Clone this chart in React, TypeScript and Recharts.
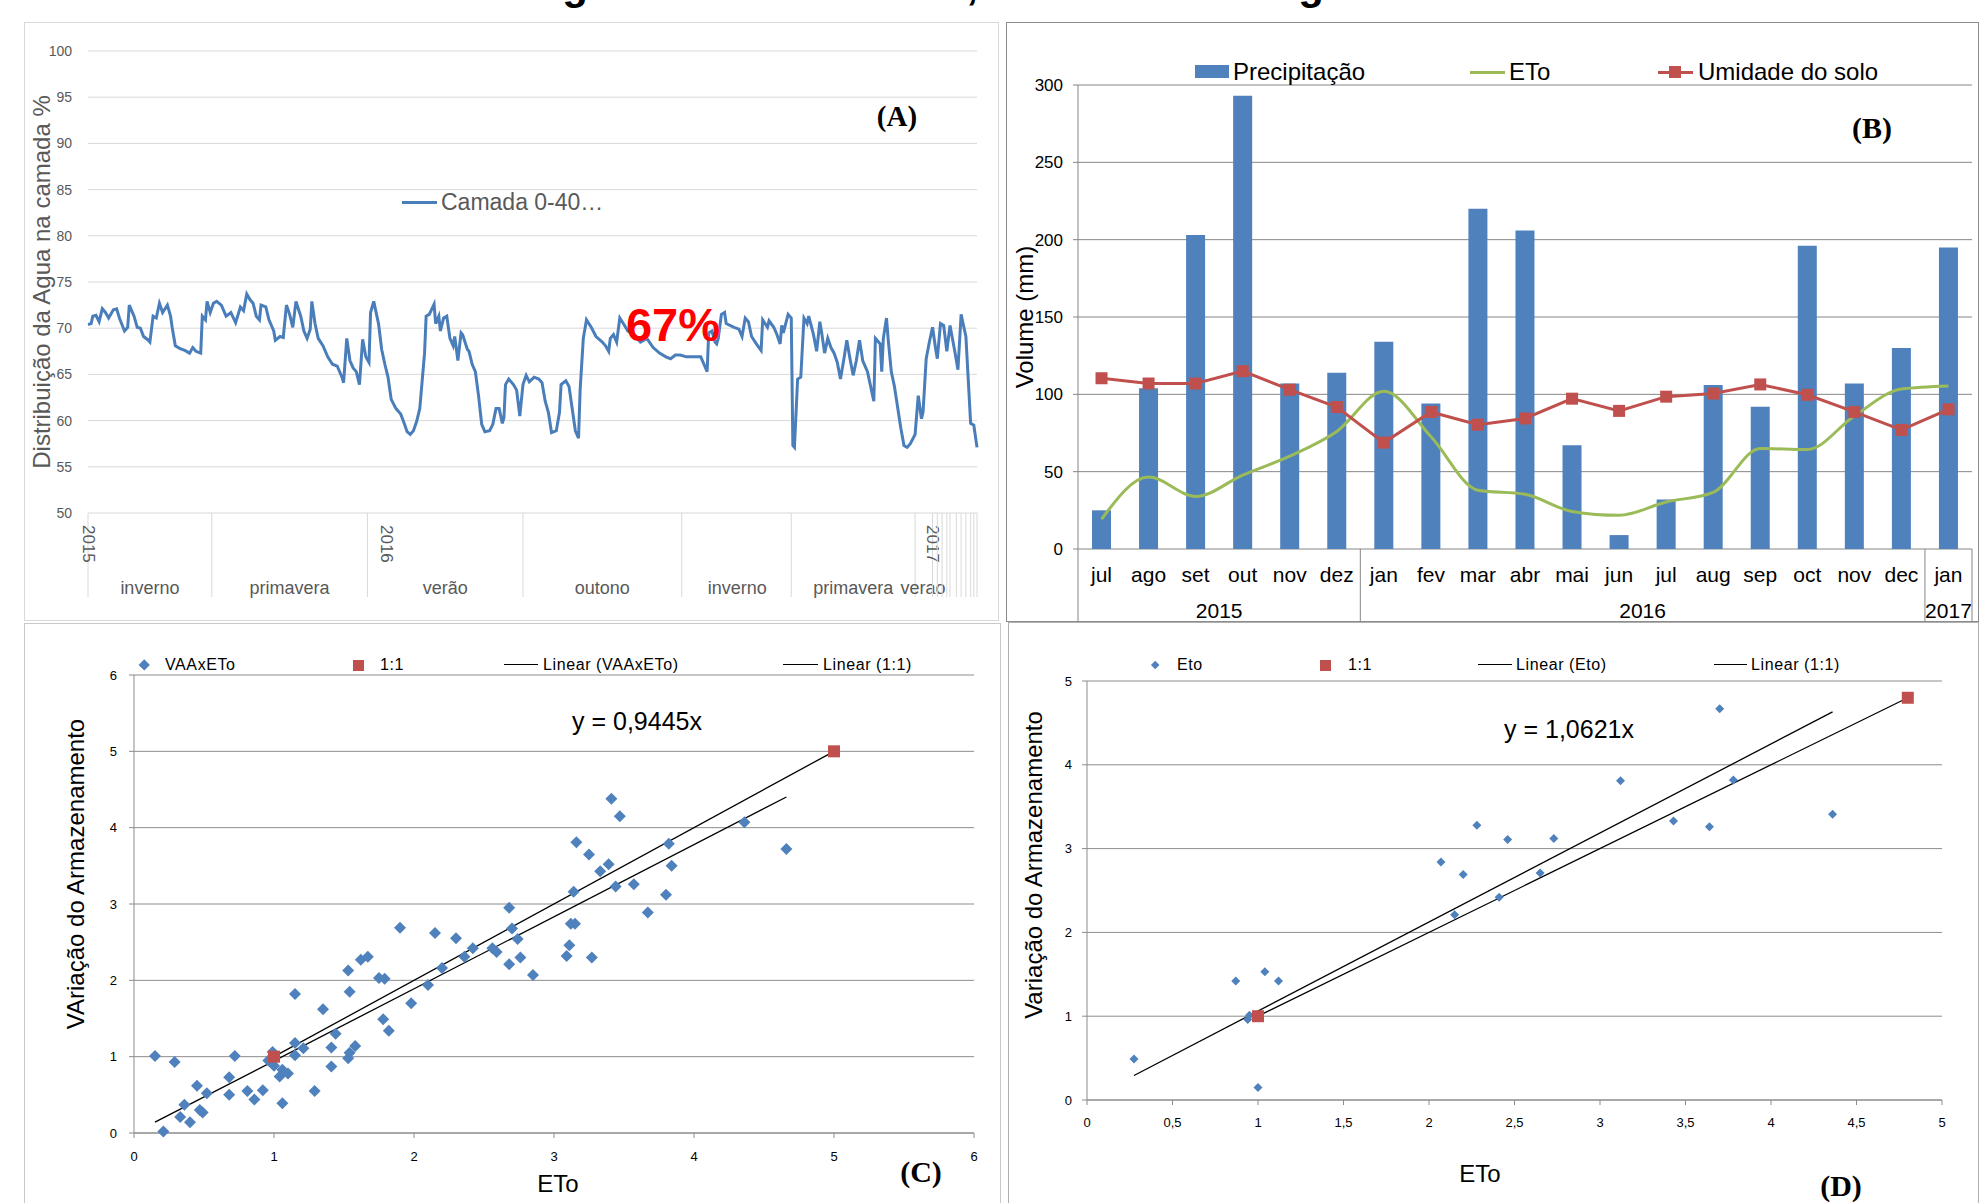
import React from 'react';
import {
  LineChart,
  Line,
  XAxis,
  YAxis,
  CartesianGrid,
  ComposedChart,
  Bar,
  ScatterChart,
  Scatter,
  ReferenceLine,
} from 'recharts';

const FONT = '"Liberation Sans", Arial, sans-serif';
const SERIF = '"Liberation Serif", "Times New Roman", serif';
const AZUL = '#4F81BD';
const VERMELHO = '#C0504D';
const VERDE = '#9BBB59';

// (A) umidade diaria da camada 0-40 (dia desde o inicio, %)
const camada: [number, number][] = [
  [0, 70.4], [2, 70.5], [3, 71.3], [5, 71.4], [7, 70.7], [9, 72.1], [11, 71.7], [13, 71.1],
  [16, 72.0], [18, 72.1], [20, 71.0], [23, 69.7], [25, 70.1], [26, 72.5], [29, 71.3], [31, 70.1],
  [33, 70.0], [35, 69.1], [38, 68.7], [39, 68.5], [41, 71.3], [43, 71.1], [45, 72.7], [47, 71.7],
  [50, 72.5], [52, 71.3], [53, 70.1], [55, 68.1], [58, 67.8], [61, 67.6], [64, 67.3], [66, 67.9],
  [68, 67.5], [71, 67.3], [72, 71.3], [74, 70.9], [75, 72.9], [77, 71.7], [79, 72.7], [81, 72.9],
  [84, 72.5], [87, 71.3], [90, 71.7], [93, 70.6], [96, 72.3], [98, 71.9], [100, 73.7], [102, 73.1],
  [104, 72.7], [106, 71.3], [108, 70.9], [109, 72.5], [112, 72.3], [114, 70.9], [117, 69.7], [118, 68.7],
  [121, 69.1], [123, 69.0], [125, 72.5], [127, 71.5], [129, 70.1], [131, 72.9], [134, 71.3], [136, 69.7],
  [138, 68.9], [140, 69.9], [141, 72.9], [143, 70.5], [145, 68.9], [148, 68.1], [151, 66.9], [154, 66.1],
  [157, 65.9], [160, 64.7], [161, 64.1], [163, 68.9], [165, 66.5], [167, 65.7], [169, 65.3], [171, 63.9],
  [173, 68.8], [175, 66.9], [177, 66.3], [178, 71.7], [180, 72.9], [183, 70.5], [185, 67.7], [187, 66.1],
  [189, 64.7], [191, 62.3], [194, 61.3], [197, 60.7], [199, 59.8], [201, 58.8], [203, 58.5], [205, 58.9],
  [207, 59.9], [209, 61.3], [212, 67.3], [213, 71.3], [215, 71.5], [218, 72.6], [219, 70.5], [221, 71.3],
  [222, 69.7], [224, 71.1], [226, 71.3], [228, 68.9], [230, 68.1], [231, 69.1], [233, 66.5], [235, 69.5],
  [236, 69.3], [239, 67.7], [240, 67.5], [242, 66.1], [244, 65.3], [246, 62.7], [248, 59.6], [250, 58.8],
  [253, 58.9], [255, 59.6], [257, 61.3], [259, 61.3], [261, 59.7], [262, 60.3], [263, 63.9], [265, 64.5],
  [268, 63.9], [270, 63.3], [272, 60.5], [274, 63.9], [276, 64.9], [278, 64.2], [281, 64.7], [284, 64.5],
  [286, 64.1], [288, 62.1], [290, 60.9], [292, 58.7], [295, 58.9], [297, 60.9], [298, 63.9], [301, 64.3],
  [303, 63.7], [305, 61.3], [307, 58.9], [309, 58.1], [310, 63.3], [312, 68.9], [314, 70.9], [317, 70.1],
  [320, 69.1], [324, 68.5], [326, 68.1], [328, 67.5], [329, 68.9], [331, 69.3], [333, 68.5], [335, 71.1],
  [338, 70.3], [340, 69.7], [344, 69.3], [348, 68.5], [352, 68.9], [356, 67.9], [360, 67.3], [364, 66.9],
  [367, 66.7], [370, 67.1], [373, 67.1], [377, 66.9], [381, 66.9], [386, 66.9], [388, 66.1], [390, 65.3],
  [391, 69.5], [393, 69.7], [395, 68.5], [396, 68.3], [397, 68.9], [399, 71.5], [401, 71.7], [402, 70.5],
  [407, 70.1], [410, 69.9], [412, 69.1], [414, 71.1], [416, 70.7], [418, 69.1], [421, 68.3], [424, 67.6],
  [425, 70.9], [428, 70.1], [429, 70.8], [432, 70.1], [434, 69.3], [436, 68.3], [437, 70.3], [438, 69.5],
  [441, 71.5], [443, 71.1], [444, 57.3], [445, 57.1], [447, 64.5], [449, 64.7], [451, 71.1], [453, 70.5],
  [454, 71.3], [457, 69.3], [459, 67.5], [461, 70.7], [462, 69.7], [464, 67.3], [466, 68.9], [468, 67.9],
  [470, 67.3], [472, 66.3], [474, 64.5], [476, 66.5], [478, 68.7], [480, 66.7], [482, 64.9], [484, 66.5],
  [486, 68.7], [488, 66.5], [491, 65.3], [493, 63.7], [495, 62.1], [496, 68.9], [499, 68.3], [500, 65.3],
  [501, 68.9], [503, 71.1], [504, 68.9], [506, 65.3], [508, 63.7], [512, 59.2], [514, 57.3], [516, 57.1],
  [518, 57.5], [521, 58.5], [523, 62.7], [525, 60.2], [526, 60.9], [528, 66.7], [530, 68.5], [532, 70.1],
  [534, 67.7], [535, 66.7], [537, 70.5], [539, 70.3], [541, 67.5], [543, 70.3], [546, 67.5], [548, 65.5],
  [550, 71.5], [553, 69.1], [556, 59.7], [558, 59.5], [560, 57.1],
];
const separadoresA = [0, 78, 176, 274, 374, 443, 521];
const marcasFinaisA = [532, 535, 538, 541, 543, 547, 550, 553, 556, 558, 560];
const estacoesDia = [39, 127, 225, 324, 409, 482, 526];
const estacoesNome = ['inverno', 'primavera', 'verão', 'outono', 'inverno', 'primavera', 'verao'];
const anosDiaA = [0, 188, 532];
const anosA = ['2015', '2016', '2017'];
const ticksY_A = [50, 55, 60, 65, 70, 75, 80, 85, 90, 95, 100];

// (B) balanco mensal
const meses = ['jul', 'ago', 'set', 'out', 'nov', 'dez', 'jan', 'fev', 'mar', 'abr', 'mai', 'jun', 'jul', 'aug', 'sep', 'oct', 'nov', 'dec', 'jan'];
const precipitacao = [25, 104, 203, 293, 107, 114, 134, 94, 220, 206, 67, 9, 32, 106, 92, 196, 107, 130, 195];
const etoMensal = [19.3, 46.5, 34, 47.8, 60, 76, 102, 72.7, 38, 35.4, 24.3, 21.8, 30.4, 36.6, 65, 64.3, 86, 103.4, 105.4];
const umidadeSolo = [110.4, 107, 107, 115, 103, 91.8, 68.8, 88.6, 80.4, 84.4, 97.2, 89.3, 98.5, 100.5, 106.4, 99.7, 88.6, 77, 90.3];
const gruposAno = [
  { ano: '2015', inicio: 0, fim: 5 },
  { ano: '2016', inicio: 6, fim: 17 },
  { ano: '2017', inicio: 18, fim: 18 },
];
const ticksY_B = [0, 50, 100, 150, 200, 250, 300];

// (C) VAA x ETo
const vaaEto: [number, number][] = [
  [0.15, 1.01], [0.29, 0.93], [0.21, 0.02], [0.33, 0.21], [0.36, 0.37], [0.40, 0.14], [0.45, 0.62],
  [0.47, 0.30], [0.49, 0.27], [0.52, 0.52], [0.68, 0.73], [0.68, 0.50], [0.72, 1.01], [0.81, 0.55],
  [0.86, 0.44], [0.92, 0.56], [0.99, 1.06], [0.96, 0.95], [1.00, 0.88], [1.04, 0.74], [1.06, 0.83],
  [1.06, 0.39], [1.10, 0.78], [1.15, 1.82], [1.15, 1.18], [1.15, 1.02], [1.21, 1.11], [1.29, 0.55],
  [1.35, 1.62], [1.41, 1.12], [1.41, 0.87], [1.44, 1.30], [1.53, 0.98], [1.54, 1.05], [1.53, 2.13],
  [1.54, 1.85], [1.58, 1.14], [1.62, 2.27], [1.67, 2.31], [1.75, 2.03], [1.79, 2.02], [1.78, 1.49],
  [1.82, 1.34], [1.90, 2.69], [1.98, 1.70], [2.10, 1.94], [2.15, 2.62], [2.20, 2.16], [2.30, 2.55],
  [2.36, 2.31], [2.42, 2.42], [2.56, 2.42], [2.59, 2.37], [2.68, 2.95], [2.70, 2.68], [2.68, 2.21],
  [2.74, 2.54], [2.76, 2.30], [2.85, 2.07], [3.09, 2.32], [3.11, 2.46], [3.12, 2.74], [3.15, 2.74],
  [3.14, 3.16], [3.16, 3.81], [3.25, 3.65], [3.27, 2.30], [3.33, 3.43], [3.39, 3.52], [3.41, 4.38],
  [3.44, 3.23], [3.47, 4.15], [3.57, 3.26], [3.67, 2.89], [3.80, 3.12], [3.82, 3.79], [3.84, 3.50],
  [4.36, 4.07], [4.66, 3.72],
];
const umPraUmC: [number, number][] = [[1, 1], [5, 5]];
const inclinacaoC = 0.9445;
const faixaTendenciaC = [0.15, 4.66];
const ticksC = [0, 1, 2, 3, 4, 5, 6];

// (D) Eto
const etoPontos: [number, number][] = [
  [0.275, 0.49], [0.87, 1.42], [0.94, 0.96], [0.95, 1.01], [1.04, 1.53], [1.12, 1.42], [1.0, 0.15],
  [2.07, 2.84], [2.2, 2.69], [2.28, 3.28], [2.15, 2.21], [2.41, 2.42], [2.46, 3.11], [2.65, 2.71],
  [2.73, 3.12], [3.12, 3.81], [3.43, 3.33], [3.64, 3.26], [3.7, 4.67], [3.78, 3.82], [4.36, 3.41],
];
const umPraUmD: [number, number][] = [[1, 1], [4.8, 4.8]];
const inclinacaoD = 1.0621;
const faixaTendenciaD = [0.275, 4.36];
const ticksXD = [0, 0.5, 1, 1.5, 2, 2.5, 3, 3.5, 4, 4.5, 5];
const ticksYD = [0, 1, 2, 3, 4, 5];

const camadaRows = camada.map(([dia, valor]) => ({ dia, valor }));
const chuvaRows = meses.map((mes, i) => ({
  mes,
  precip: precipitacao[i],
  eto: etoMensal[i],
  umidade: umidadeSolo[i],
}));
const toXY = (arr: [number, number][]) => arr.map(([x, y]) => ({ x, y }));
const ticksA = Array.from(new Set([...separadoresA, ...marcasFinaisA, ...estacoesDia, ...anosDiaA])).sort((a, b) => a - b);

// layout constants
const A_BASE = 513;
const B_BASE = 549;
const B_PASSO = 894 / meses.length;

function TickA({ x, payload }: any) {
  const v = payload.value;
  const els: React.ReactNode[] = [];
  if (separadoresA.includes(v) || marcasFinaisA.includes(v)) {
    els.push(<line key="l" x1={x} x2={x} y1={A_BASE} y2={A_BASE + 84} stroke="#d9d9d9" />);
  }
  const e = estacoesDia.indexOf(v);
  if (e >= 0) {
    els.push(
      <text key="e" x={x} y={594} textAnchor="middle" fontSize={18} fontFamily={FONT} fill="#595959">
        {estacoesNome[e]}
      </text>
    );
  }
  const a = anosDiaA.indexOf(v);
  if (a >= 0) {
    const y0 = A_BASE + 12;
    els.push(
      <text key="a" x={x} y={y0} transform={`rotate(90 ${x} ${y0})`} dominantBaseline="central" fontSize={17} fontFamily={FONT} fill="#595959">
        {anosA[a]}
      </text>
    );
  }
  return <g>{els}</g>;
}

function TickB(props: any) {
  const { x } = props;
  const index = props.index ?? props.payload?.index ?? 0;
  const els: React.ReactNode[] = [
    <text key="m" x={x} y={582} textAnchor="middle" fontSize={21} fontFamily={FONT} fill="#000">
      {meses[index]}
    </text>,
  ];
  gruposAno.forEach((g, gi) => {
    if (index === g.inicio) {
      const xs = x - B_PASSO / 2;
      els.push(<line key={'s' + gi} x1={xs} x2={xs} y1={B_BASE} y2={622} stroke="#868686" />);
      const cx = x + ((g.inicio + g.fim) / 2 - index) * B_PASSO;
      els.push(
        <text key={'a' + gi} x={cx} y={618} textAnchor="middle" fontSize={21} fontFamily={FONT} fill="#000">
          {g.ano}
        </text>
      );
    }
  });
  if (index === meses.length - 1) {
    const xe = x + B_PASSO / 2;
    els.push(<line key="fim" x1={xe} x2={xe} y1={B_BASE} y2={622} stroke="#868686" />);
  }
  return <g>{els}</g>;
}

function SquareDot(props: any) {
  const { cx, cy, index } = props;
  return <rect key={`q-${index}`} x={cx - 6} y={cy - 6} width={12} height={12} fill={VERMELHO} />;
}

const losango = (r: number) => (props: any) => {
  const { cx, cy } = props;
  return <polygon points={`${cx},${cy - r} ${cx + r},${cy} ${cx},${cy + r} ${cx - r},${cy}`} fill={AZUL} />;
};
const quadrado = (s: number) => (props: any) => {
  const { cx, cy } = props;
  return <rect x={cx - s / 2} y={cy - s / 2} width={s} height={s} fill={VERMELHO} />;
};

function Texto({
  x, y, size, children, color = '#000', rot = 0, bold = false, family = FONT, centro = true, spacing = 0,
}: {
  x: number; y: number; size: number; children: React.ReactNode; color?: string; rot?: number;
  bold?: boolean; family?: string; centro?: boolean; spacing?: number;
}) {
  return (
    <div
      style={{
        position: 'absolute',
        left: x,
        top: y,
        transform: `translate(${centro ? '-50%' : '0'}, -50%) rotate(${rot}deg)`,
        fontSize: size,
        lineHeight: 1,
        color,
        fontFamily: family,
        fontWeight: bold ? 'bold' : 'normal',
        whiteSpace: 'nowrap',
        letterSpacing: spacing,
      }}
    >
      {children}
    </div>
  );
}

function Marca({ x, y, tipo, cor, tam = 12, w = 34 }: { x: number; y: number; tipo: string; cor: string; tam?: number; w?: number }) {
  if (tipo === 'linha') {
    return <div style={{ position: 'absolute', left: x, top: y - 1, width: w, height: 0, borderTop: `${tam}px solid ${cor}` }} />;
  }
  if (tipo === 'losango') {
    return (
      <div
        style={{
          position: 'absolute', left: x - tam / 2 / 1.414, top: y - tam / 2 / 1.414, width: tam / 1.414, height: tam / 1.414,
          background: cor, transform: 'rotate(45deg)',
        }}
      />
    );
  }
  return <div style={{ position: 'absolute', left: x - tam / 2, top: y - tam / 2, width: tam, height: tam, background: cor }} />;
}

function Moldura({ x, y, w, h, cor }: { x: number; y: number; w: number; h: number; cor: string }) {
  return <div style={{ position: 'absolute', left: x, top: y, width: w, height: h, border: `1px solid ${cor}`, boxSizing: 'border-box' }} />;
}

export default function App() {
  return (
    <div style={{ position: 'absolute', left: 0, top: 0, width: 1980, height: 1203, background: '#fff', overflow: 'hidden', fontFamily: FONT }}>
      {/* resto do titulo cortado */}
      <svg width={1980} height={14} style={{ position: 'absolute', left: 0, top: 0 }}>
        <text x={575} y={-1} textAnchor="middle" fontSize={42} fontWeight="bold" fontFamily={FONT}>g</text>
        <text x={972} y={-1} textAnchor="middle" fontSize={42} fontWeight="bold" fontFamily={FONT}>,</text>
        <text x={1311} y={-1} textAnchor="middle" fontSize={42} fontWeight="bold" fontFamily={FONT}>g</text>
      </svg>

      <Moldura x={24} y={22} w={975} h={599} cor="#d9d9d9" />
      <Moldura x={1006} y={22} w={973} h={600} cor="#8c8c8c" />
      <Moldura x={24} y={623} w={977} h={600} cor="#c8c8c8" />
      <Moldura x={1008} y={622} w={971} h={600} cor="#b0b0b0" />

      {/* (A) */}
      <div style={{ position: 'absolute', left: 0, top: 0 }}>
        <LineChart width={1000} height={620} data={camadaRows} margin={{ top: 51, right: 23, bottom: 7, left: 28 }}>
          <CartesianGrid vertical={false} stroke="#d9d9d9" />
          <XAxis
            type="number"
            dataKey="dia"
            domain={[0, 560]}
            ticks={ticksA}
            interval={0}
            tick={(p: any) => <TickA {...p} />}
            tickLine={false}
            axisLine={false}
            height={100}
          />
          <YAxis
            domain={[50, 100]}
            ticks={ticksY_A}
            interval={0}
            width={60}
            axisLine={false}
            tickLine={false}
            tickSize={0}
            tickMargin={16}
            tick={{ fill: '#595959', fontSize: 14, fontFamily: FONT }}
          />
          <Line type="linear" dataKey="valor" stroke="#4A7EBB" strokeWidth={3} dot={false} isAnimationActive={false} />
        </LineChart>
      </div>
      <Texto x={42} y={282} size={24} color="#595959" rot={-90}>Distribuição da Agua na camada %</Texto>
      <Marca x={402} y={202} tipo="linha" cor="#4A7EBB" tam={3} w={35} />
      <Texto x={441} y={202} size={23} color="#595959" centro={false}>Camada 0-40…</Texto>
      <Texto x={897} y={116} size={29} bold family={SERIF}>(A)</Texto>
      <Texto x={673} y={324} size={47} bold color="#FF0000">67%</Texto>

      {/* (B) */}
      <div style={{ position: 'absolute', left: 1000, top: 0 }}>
        <ComposedChart width={980} height={622} data={chuvaRows} margin={{ top: 85, right: 8, bottom: 3, left: 18 }}>
          <CartesianGrid vertical={false} stroke="#868686" />
          <XAxis dataKey="mes" interval={0} tick={(p: any) => <TickB {...p} />} tickLine={false} axisLine={false} height={70} />
          <YAxis
            domain={[0, 300]}
            ticks={ticksY_B}
            interval={0}
            width={60}
            tickSize={5}
            tickMargin={10}
            axisLine={{ stroke: '#868686' }}
            tickLine={{ stroke: '#868686' }}
            tick={{ fill: '#000', fontSize: 17, fontFamily: FONT }}
          />
          <Bar dataKey="precip" fill={AZUL} barSize={19} isAnimationActive={false} />
          <Line type="monotone" dataKey="eto" stroke={VERDE} strokeWidth={3} dot={false} isAnimationActive={false} />
          <Line type="linear" dataKey="umidade" stroke={VERMELHO} strokeWidth={3} dot={SquareDot} isAnimationActive={false} />
        </ComposedChart>
      </div>
      <Texto x={1025} y={317} size={24} rot={-90}>Volume (mm)</Texto>
      <div style={{ position: 'absolute', left: 1195, top: 65, width: 34, height: 13, background: AZUL }} />
      <Texto x={1233} y={72} size={24} centro={false}>Precipitação</Texto>
      <Marca x={1470} y={72} tipo="linha" cor={VERDE} tam={3} w={35} />
      <Texto x={1509} y={72} size={24} centro={false}>ETo</Texto>
      <Marca x={1658} y={72} tipo="linha" cor={VERMELHO} tam={3} w={35} />
      <Marca x={1675} y={72} tipo="quadrado" cor={VERMELHO} tam={12} />
      <Texto x={1698} y={72} size={24} centro={false}>Umidade do solo</Texto>
      <Texto x={1872} y={128} size={30} bold family={SERIF}>(B)</Texto>

      {/* (C) */}
      <div style={{ position: 'absolute', left: 0, top: 620 }}>
        <ScatterChart width={1000} height={583} margin={{ top: 55, right: 26, bottom: 30, left: 74 }}>
          <CartesianGrid vertical={false} stroke="#8c8c8c" />
          <XAxis
            type="number"
            dataKey="x"
            domain={[0, 6]}
            ticks={ticksC}
            interval={0}
            height={40}
            tickSize={5}
            tickMargin={14}
            axisLine={{ stroke: '#8c8c8c' }}
            tickLine={{ stroke: '#8c8c8c' }}
            tick={{ fill: '#000', fontSize: 13, fontFamily: FONT }}
          />
          <YAxis
            type="number"
            dataKey="y"
            domain={[0, 6]}
            ticks={ticksC}
            interval={0}
            width={60}
            tickSize={5}
            tickMargin={12}
            axisLine={{ stroke: '#8c8c8c' }}
            tickLine={{ stroke: '#8c8c8c' }}
            tick={{ fill: '#000', fontSize: 13, fontFamily: FONT }}
          />
          <Scatter data={toXY(vaaEto)} shape={losango(6)} isAnimationActive={false} />
          <Scatter data={toXY(umPraUmC)} shape={quadrado(12)} isAnimationActive={false} />
          <ReferenceLine
            segment={[
              { x: faixaTendenciaC[0], y: faixaTendenciaC[0] * inclinacaoC },
              { x: faixaTendenciaC[1], y: faixaTendenciaC[1] * inclinacaoC },
            ]}
            stroke="#000"
            strokeWidth={1.3}
          />
          <ReferenceLine
            segment={[
              { x: umPraUmC[0][0], y: umPraUmC[0][1] },
              { x: umPraUmC[1][0], y: umPraUmC[1][1] },
            ]}
            stroke="#000"
            strokeWidth={1.3}
          />
        </ScatterChart>
      </div>
      <Texto x={76} y={874} size={24} rot={-90}>VAriação do Armazenamento</Texto>
      <Texto x={558} y={1184} size={24}>ETo</Texto>
      <Texto x={921} y={1172} size={30} bold family={SERIF}>(C)</Texto>
      <Texto x={637} y={721} size={25}>y = 0,9445x</Texto>
      <Marca x={144} y={665} tipo="losango" cor={AZUL} tam={12} />
      <Texto x={165} y={665} size={16} spacing={0.6} centro={false}>VAAxETo</Texto>
      <Marca x={358} y={665} tipo="quadrado" cor={VERMELHO} tam={11} />
      <Texto x={380} y={665} size={16} spacing={0.6} centro={false}>1:1</Texto>
      <Marca x={504} y={665} tipo="linha" cor="#000" tam={1} w={34} />
      <Texto x={543} y={665} size={16} spacing={0.6} centro={false}>Linear (VAAxETo)</Texto>
      <Marca x={783} y={665} tipo="linha" cor="#000" tam={1} w={35} />
      <Texto x={823} y={665} size={16} spacing={0.6} centro={false}>Linear (1:1)</Texto>

      {/* (D) */}
      <div style={{ position: 'absolute', left: 1000, top: 620 }}>
        <ScatterChart width={980} height={583} margin={{ top: 61, right: 38, bottom: 63, left: 27 }}>
          <CartesianGrid vertical={false} stroke="#8c8c8c" />
          <XAxis
            type="number"
            dataKey="x"
            domain={[0, 5]}
            ticks={ticksXD}
            interval={0}
            height={40}
            tickSize={5}
            tickMargin={13}
            tickFormatter={(v: number) => String(v).replace('.', ',')}
            axisLine={{ stroke: '#8c8c8c' }}
            tickLine={{ stroke: '#8c8c8c' }}
            tick={{ fill: '#000', fontSize: 13, fontFamily: FONT }}
          />
          <YAxis
            type="number"
            dataKey="y"
            domain={[0, 5]}
            ticks={ticksYD}
            interval={0}
            width={60}
            tickSize={5}
            tickMargin={10}
            axisLine={{ stroke: '#8c8c8c' }}
            tickLine={{ stroke: '#8c8c8c' }}
            tick={{ fill: '#000', fontSize: 13, fontFamily: FONT }}
          />
          <Scatter data={toXY(etoPontos)} shape={losango(4.5)} isAnimationActive={false} />
          <Scatter data={toXY(umPraUmD)} shape={quadrado(12)} isAnimationActive={false} />
          <ReferenceLine
            segment={[
              { x: faixaTendenciaD[0], y: faixaTendenciaD[0] * inclinacaoD },
              { x: faixaTendenciaD[1], y: faixaTendenciaD[1] * inclinacaoD },
            ]}
            stroke="#000"
            strokeWidth={1.3}
          />
          <ReferenceLine
            segment={[
              { x: umPraUmD[0][0], y: umPraUmD[0][1] },
              { x: umPraUmD[1][0], y: umPraUmD[1][1] },
            ]}
            stroke="#000"
            strokeWidth={1.3}
          />
        </ScatterChart>
      </div>
      <Texto x={1034} y={865} size={24} rot={-90}>Variação do Armazenamento</Texto>
      <Texto x={1480} y={1174} size={24}>ETo</Texto>
      <Texto x={1841} y={1186} size={30} bold family={SERIF}>(D)</Texto>
      <Texto x={1569} y={729} size={25}>y = 1,0621x</Texto>
      <Marca x={1155} y={665} tipo="losango" cor={AZUL} tam={9} />
      <Texto x={1177} y={665} size={16} spacing={0.6} centro={false}>Eto</Texto>
      <Marca x={1325} y={665} tipo="quadrado" cor={VERMELHO} tam={11} />
      <Texto x={1348} y={665} size={16} spacing={0.6} centro={false}>1:1</Texto>
      <Marca x={1478} y={665} tipo="linha" cor="#000" tam={1} w={34} />
      <Texto x={1516} y={665} size={16} spacing={0.6} centro={false}>Linear (Eto)</Texto>
      <Marca x={1714} y={665} tipo="linha" cor="#000" tam={1} w={33} />
      <Texto x={1751} y={665} size={16} spacing={0.6} centro={false}>Linear (1:1)</Texto>
    </div>
  );
}
